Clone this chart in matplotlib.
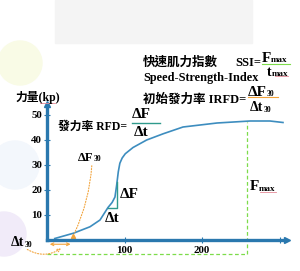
import matplotlib.pyplot as plt
from matplotlib.patches import Circle, Rectangle
from matplotlib.lines import Line2D

# force-time curve (time in ms, force in kp)
time_ms = [10, 34, 55.5, 68.4, 78.7, 84, 87.7, 89.9, 92, 94, 97, 101, 111,
           128.6, 150, 175.5, 219.4, 262, 287.7, 304.5]
force_kp = [0.4, 2.5, 5.1, 7.8, 12.8, 14.8, 17, 21.8, 27.1, 30.5, 32.6, 34.3,
            36.8, 39.8, 42.3, 45, 46.6, 47.4, 47.4, 46.8]

y_ticks = [10, 20, 30, 40, 50]
x_ticks = [100, 200, 300]
x_tick_labels = ["100", "200", ""]

# delta-F / delta-t triangle on the steep part
tri_t = [78.7, 90.3]
tri_F = [12.8, 23.0]

t30, F30 = 34, 1.6          # point at 30 ms
t_fmax, F_max = 258, 47.2   # where the curve reaches its maximum
y_end, x_end = 54.2, 310

BLUE = "#2a78ae"
CURVE = "#3d8dbf"
TEAL = "#2f9a8c"
ORANGE = "#f2a33a"
GREEN = "#7ddc4a"
PINK = "#e58a98"

SERIF = ["Liberation Serif", "Noto Sans CJK TC"]

fig = plt.figure(figsize=(3.0, 2.71), dpi=100)
fig.patch.set_facecolor("white")


def fx(px):
    return px / 300


def fy(py):
    return 1 - py / 271


# faint background decoration
fig.add_artist(Rectangle((fx(55), fy(43)), fx(252) - fx(55), fy(0) - fy(43),
                         transform=fig.transFigure, color="#f4f4f4", zorder=-2))
for cx, cy, r, col in [(20, 63, 0.22, "#f9fbe6"), (15, 165, 0.24, "#f3f7fc"),
                       (4, 234, 0.22, "#f1ebf9")]:
    fig.add_artist(Circle((cx / 100, (271 - cy) / 100), r, transform=fig.dpi_scale_trans,
                          color=col, zorder=-2))

ax = fig.add_axes([0, 0, 1, 1])
ax.set_facecolor("none")
ax.set_xlim(-47 / 0.775, 253 / 0.775)
ax.set_ylim(-31.5 / 2.5, 239.5 / 2.5)

for side in ["top", "right"]:
    ax.spines[side].set_visible(False)
for side in ["left", "bottom"]:
    ax.spines[side].set_position(("data", 0))
    ax.spines[side].set_linewidth(2.4)
    ax.spines[side].set_color(BLUE)
ax.spines["left"].set_bounds(0, y_end - 1)
ax.spines["bottom"].set_bounds(0, x_end - 3)
ax.plot([0], [y_end], marker="^", ms=4.5, color=BLUE, clip_on=False)
ax.plot([x_end], [0], marker=">", ms=4.5, color=BLUE, clip_on=False)

ax.set_yticks(y_ticks)
ax.set_yticklabels([str(v) for v in y_ticks])
ax.set_xticks(x_ticks)
ax.set_xticklabels(x_tick_labels)
ax.tick_params(direction="inout", length=4, width=0.8, color=BLUE, pad=1.5)
ax.tick_params(axis="x", pad=3)
for lab in ax.get_xticklabels() + ax.get_yticklabels():
    lab.set_family(SERIF)
    lab.set_fontweight("bold")
    lab.set_fontsize(7.8)

# force curve
ax.plot(time_ms, force_kp, color=CURVE, lw=1.2)

# triangle
ax.plot([tri_t[0], tri_t[1], tri_t[1]], [tri_F[0], tri_F[0], tri_F[1]], color=TEAL, lw=1.0)

# Fmax guides
ax.plot([t_fmax, t_fmax], [-5.9, F_max], color=GREEN, lw=0.9, ls=(0, (3, 2)))
ax.plot([0, t_fmax], [-5.9, -5.9], color=GREEN, lw=0.9, ls=(0, (3, 2)))

# 30 ms markers
ax.annotate("", xy=(0, -1.9), xytext=(t30, -1.9),
            arrowprops=dict(arrowstyle="<->", color=ORANGE, lw=0.8, mutation_scale=5))
ax.plot([t30], [F30], marker="^", ms=3, color=ORANGE)
ax.annotate("", xy=(t30, F30), xytext=(58, 30.6),
            arrowprops=dict(arrowstyle="-", color=ORANGE, lw=0.8, ls=(0, (1, 1.5)),
                            connectionstyle="arc3,rad=-0.1"))
ax.annotate("", xy=(21, -2.9), xytext=(-28.5, -3.4),
            arrowprops=dict(arrowstyle="->", color=ORANGE, lw=0.8, ls=(0, (1, 1.5)),
                            mutation_scale=5, connectionstyle="arc3,rad=0.35"))


def label(px, py, s, size=9):
    return fig.text(fx(px), fy(py), s, family=SERIF, fontweight="bold",
                    fontsize=size, ha="left", va="center")


def with_sub(px, py, main, sub, size=11, subsize=6):
    t = label(px, py, main, size)
    ax.annotate(sub, xy=(1, 0.06), xycoords=t, family=SERIF, fontweight="bold",
                fontsize=subsize, ha="left", va="bottom")


label(143, 63, "快速肌力指數")
label(235, 63, "SSI=")
with_sub(262, 58, "F", "max", 11, 6.5)
with_sub(267, 72, "t", "max", 10, 6.5)
label(143, 78, "Speed-Strength-Index", 8.8)
label(143, 100, "初始發力率 IRFD=")
with_sub(248, 92, "\u0394F", "30", 11, 5.5)
with_sub(250, 108, "\u0394t", "30", 10, 5.5)
label(15, 98, "力量(kp)", 8.5)
label(58, 127, "發力率 RFD=", 8.5)
label(132, 115, "\u0394F", 11)
label(134, 133, "\u0394t", 11)
with_sub(78, 158, "\u0394F", "30", 9, 5.5)
label(120, 195, "\u0394F", 11)
label(105, 218, "\u0394t", 11)
with_sub(250, 187, "F", "max", 11, 6.5)
with_sub(11, 243, "\u0394t", "30", 10, 5.5)

# underlines and fraction bars
for x0, x1, y, col, lw in [(262, 290, 63.5, GREEN, 0.8), (132, 160, 122.7, TEAL, 1.0),
                           (248, 278, 97, ORANGE, 0.8), (275, 288, 76, PINK, 0.6),
                           (260, 276, 192, PINK, 0.6), (40, 55, 103, PINK, 0.6)]:
    fig.add_artist(Line2D([fx(x0), fx(x1)], [fy(y), fy(y)], transform=fig.transFigure,
                          color=col, lw=lw))

fig.savefig("out.png", dpi=100, facecolor="white")
